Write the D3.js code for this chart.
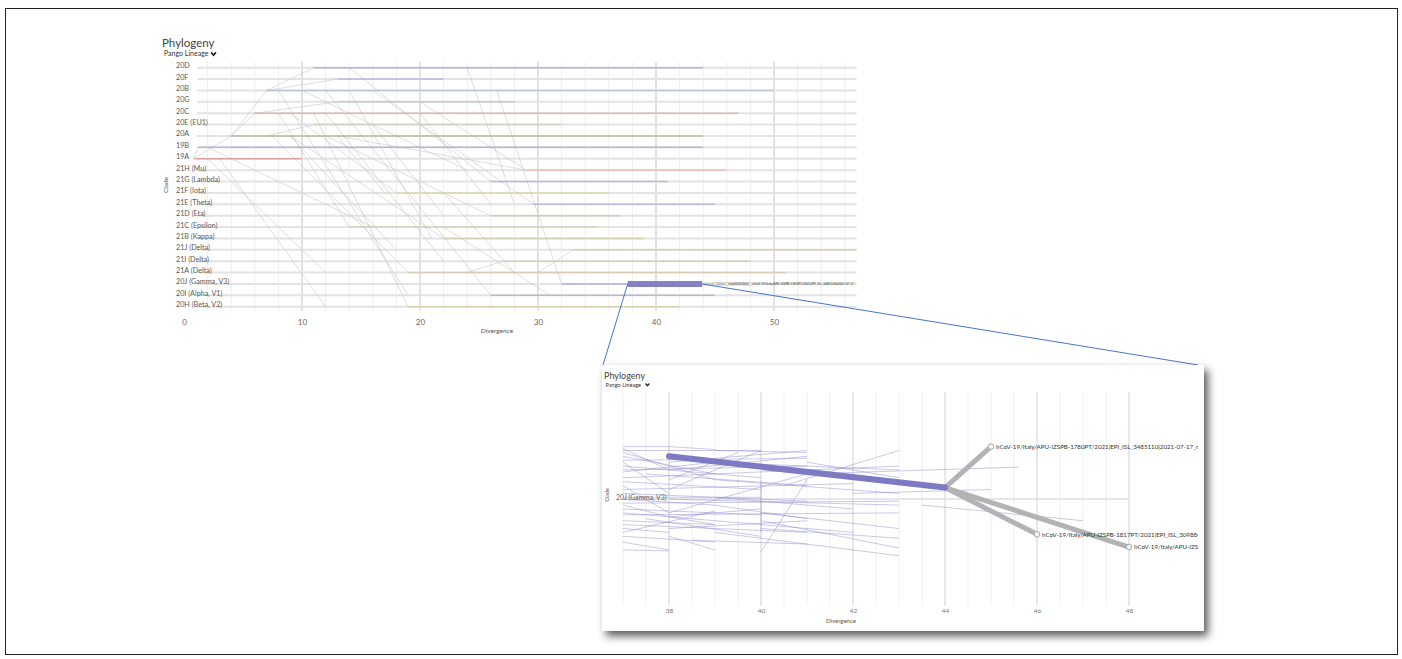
<!DOCTYPE html>
<meta charset="utf-8">
<style>
body{margin:0;background:#fff;}
text{font-family:Lato,"Open Sans",sans-serif;}
</style>
<svg width="1402" height="659"></svg>
<script src="https://cdn.jsdelivr.net/npm/d3@7"></script>
<script>
// clades, top to bottom
var clades = ["20D","20F","20B","20G","20C","20E (EU1)","20A","19B","19A","21H (Mu)","21G (Lambda)","21F (Iota)","21E (Theta)","21D (Eta)","21C (Epsilon)","21B (Kappa)","21J (Delta)","21I (Delta)","21A (Delta)","20J (Gamma, V3)","20I (Alpha, V1)","20H (Beta, V2)"];
var cladeParent = ["20B","20B","20A","20C","20A","20A","19A","19A",null,"20A","20D","20C","20B","20A","20C","20A","21A (Delta)","21A (Delta)","20A","20B","20B","20C"];
var branchDiv = [7,7,4,6,4,7,0.8,0.8,null,13,14,9,16,12,8,9,30,24,7.5,26.5,12,11];
var startDiv  = [11,13,7,13,6,11,4,1.2,0.8,29,26,18,29.6,26,14,22,33,27,19,32,26,19];
var endDiv    = [44,22,50,28,47,32,44,44,10,46,41,36,45,37,35,39,57,48,51,37.6,45,42];

// other branches crossing between clades: [fromClade, fromDiv, toClade, toDiv]
var crossBranches = [
  ["20B",10,"21H (Mu)",24],["20A",13,"21F (Iota)",17],["20C",20,"21E (Theta)",26],
  ["19B",2,"21C (Epsilon)",16],["19A",2,"21A (Delta)",12],["20E (EU1)",16,"21D (Eta)",22],
  ["20G",20,"21H (Mu)",29],["21C (Epsilon)",22,"20I (Alpha, V1)",31],["20D",24,"21E (Theta)",28],
  ["19A",3,"20H (Beta, V2)",12],["20B",14,"21B (Kappa)",21],["20A",9,"21J (Delta)",18],
  ["21F (Iota)",22,"21A (Delta)",28],["20C",12,"21I (Delta)",22],["20B",8,"20I (Alpha, V1)",19]
];

var xTicks = [0,10,20,30,40,50];

// 20J (Gamma) zoomed lineage
var trunkDiv = [37.6, 43.9];
var tipNames = ["hCoV-19/Italy/APU-IZSPB-1780PT/2021|EPI_ISL_3485110|2021-07-17_nextregions",
                "hCoV-19/Italy/APU-IZSPB-1817PT/2021|EPI_ISL_3098840|2021-06-29",
                "hCoV-19/Italy/APU-IZSPB-1905PT/2021|EPI_ISL_3485126|2021-07-17"];
var tipDiv = [45, 46, 48];
var tipSpread = [28, 73, 79.5];
var nodeDiv = [38, 44];
var nodeSpread = [33, 49];
var zoomTicks = [38,40,42,44,46,48];
var zoomBranches = [
 [37,28,38,28],[37,30,40,30],[38,28,39,29.5],[37,29,38,40],[37,31,39,45],
 [37,35,41,34],[37,38,40,44],[37,41,39,36],[37,44,43,38],[37,46,40,50],
 [37,48,38,62],[37,50,42,47],[37,52,41,56],[37,55,39,58],[37,58,38,64],
 [37,60,40,63],[37,63,43,62],[37,66,39,68],[37,70,38,72],[37,74,39,77],
 [37,77,38,81],[37,81,38,81.5],[38,64,40,60],[38,64,39,68],[38,50,40,30],
 [38,45,39.5,31],[38,62,41,42],[39,58,41,65],[40,82,41,45],[40,70,43,75],
 [40,62,43,70],[39,36,43,40],[41,42,45.6,38.5],[40.5,48,43,30],[42,52,45,50],
 [40,66,43,80],[39,72,43,84],[43.5,58,47,66],[37,40,41,38],[38,55,43,58],
 [37,62,42,72],[38,36,41,30],[39,45,43,52],[40,46,40,72],
 [37,33,39,42],[37,36,38,52],[37.5,42,41,48],[38,40,41,33],[37,54,40,54],
 [37,57,43,56],[37.5,65,40,74],[38,70,41,66],[37,72,39,61],[39,54,42,60],
 [38.5,76,41,78],[37,68,41,72],[39,30,41,31],[41,36,43,44],[38,74,39,81]
];

var cladeColor = d3.scaleOrdinal().domain(clades).range(["#938fd0","#9a96d4","#a3acd8","#8ec3cc","#d39a8a","#b9c7a8","#8ea36a","#9b8fd0","#d86f6f","#e0a5a0","#9f96d6","#d8cf84","#9f98d4","#bfbf7e","#c9c9a2","#c8bf86","#d9b98d","#d8bc95","#d5b78e","#8c88c8","#9a94d2","#c9c78f"]);

var svg = d3.select("svg");
svg.append("rect").attr("x",5.5).attr("y",8.5).attr("width",1392).attr("height",646)
  .attr("fill","none").attr("stroke","#222");

var defs = svg.append("defs");
defs.append("filter").attr("id","shadow").attr("x","-10%").attr("y","-10%").attr("width","125%").attr("height","130%")
  .append("feDropShadow").attr("dx",4).attr("dy",5).attr("stdDeviation",4.5)
  .attr("flood-color","#000").attr("flood-opacity",0.65);
defs.append("clipPath").attr("id","zclip").append("rect")
  .attr("x",602).attr("y",365).attr("width",596).attr("height",266);

function chevron(g, cx, cy, s) {
  g.append("path").attr("d","M"+(cx-s)+","+(cy-s*0.6)+"L"+cx+","+(cy+s*0.6)+"L"+(cx+s)+","+(cy-s*0.6))
    .attr("fill","none").attr("stroke","#222").attr("stroke-width",s*0.7);
}

// ---------- main chart
var x = d3.scaleLinear().domain([0,57]).range([184,856.6]);
var y = d3.scalePoint().domain(clades).range([67.7,306.7]);
var main = svg.append("g");

main.append("text").attr("x",162).attr("y",47).attr("font-size",11.5).attr("fill","#444").text("Phylogeny");
main.append("text").attr("x",164).attr("y",56).attr("font-size",7).attr("fill","#333").text("Pango Lineage");
chevron(main, 213.5, 53.8, 2.4);

main.selectAll(".vg").data(d3.range(2,57,2)).join("line")
  .attr("x1",x).attr("x2",x).attr("y1",62).attr("y2",311)
  .attr("stroke",function(d){return d%10===0?"#d9d9d9":"#efefef";})
  .attr("stroke-width",function(d){return d%10===0?1.5:1;});
main.selectAll(".row").data(clades).join("line")
  .attr("x1",x(1.1)).attr("x2",x(57)).attr("y1",y).attr("y2",y)
  .attr("stroke","#e3e3e3").attr("stroke-width",2);

main.selectAll(".lab").data(clades).join("text")
  .attr("x",176).attr("y",function(d){return y(d)+0.5;})
  .attr("font-size",7.2).attr("fill","#5a5a5a").text(function(d){return d;});

var xAxis = main.append("g").attr("transform","translate(0,316)")
  .call(d3.axisBottom(x).tickValues(xTicks).tickSize(0).tickPadding(3));
xAxis.select(".domain").remove();
xAxis.selectAll("text").attr("font-size",8).attr("fill","#666").attr("font-family","Lato");
main.append("text").attr("x",497).attr("y",333).attr("text-anchor","middle").attr("font-size",6.5).attr("fill","#555").text("Divergence");
main.append("text").attr("transform","translate(168,185) rotate(-90)").attr("text-anchor","middle").attr("font-size",6.5).attr("fill","#555").text("Clade");

// gray branches between clades
var diag = [];
clades.forEach(function(c,i){
  if (cladeParent[i]) diag.push([cladeParent[i], branchDiv[i], c, startDiv[i]]);
});
diag = diag.concat(crossBranches);
main.selectAll(".diag").data(diag).join("line")
  .attr("x1",function(d){return x(d[1]);}).attr("y1",function(d){return y(d[0]);})
  .attr("x2",function(d){return x(d[3]);}).attr("y2",function(d){return y(d[2]);})
  .attr("stroke","#c8c8c8").attr("stroke-width",0.8).attr("opacity",0.75);

// coloured in-clade branches
main.selectAll(".seg").data(clades).join("line")
  .attr("x1",function(d,i){return x(startDiv[i]);}).attr("x2",function(d,i){return x(endDiv[i]);})
  .attr("y1",y).attr("y2",y)
  .attr("stroke",function(d){return cladeColor(d);}).attr("stroke-width",1.5).attr("opacity",0.55);

// 20J trunk in main chart
var yJ = y("20J (Gamma, V3)");
main.append("line").attr("x1",x(trunkDiv[1])).attr("x2",x(d3.max(tipDiv))).attr("y1",yJ).attr("y2",yJ)
  .attr("stroke","#cfcfcf").attr("stroke-width",3);
main.append("line").attr("x1",x(trunkDiv[0])).attr("x2",x(trunkDiv[1])).attr("y1",yJ).attr("y2",yJ)
  .attr("stroke","#8581c4").attr("stroke-width",6);
// tiny tip labels, squeezed into the room before the next tip
tipDiv.forEach(function(d,i){
  var next = i < tipDiv.length - 1 ? x(tipDiv[i+1]) - 2 : x(57) + 2;
  main.append("circle").attr("cx",x(d)).attr("cy",yJ).attr("r",1.6).attr("fill","#fff").attr("stroke","#aaa").attr("stroke-width",0.6);
  var t = main.append("g").attr("transform","translate(" + (x(d)+2) + "," + (yJ+1.2) + ")")
    .append("text").attr("font-size",3.2).attr("fill","#333").text(tipNames[i]);
  var w = t.node().getComputedTextLength();
  t.attr("transform","scale(" + Math.min(1,(next-x(d)-2)/w) + ",1)");
});

// ---------- zoom inset
var zx = d3.scaleLinear().domain([38,48]).range([669,1129]);
var zy = d3.scaleLinear().domain([0,100]).range([392,587]);
var zx0 = 602, zy0 = 365, zx1 = 1204, zy1 = 631;

svg.append("line").attr("x1",x(trunkDiv[0])).attr("y1",yJ).attr("x2",zx0+1).attr("y2",zy0)
  .attr("stroke","#4676c8").attr("stroke-width",1);
svg.append("line").attr("x1",x(trunkDiv[1])).attr("y1",yJ).attr("x2",zx1-6).attr("y2",zy0)
  .attr("stroke","#4676c8").attr("stroke-width",1);

svg.append("rect").attr("x",zx0).attr("y",zy0).attr("width",zx1-zx0).attr("height",zy1-zy0)
  .attr("fill","#fff").attr("filter","url(#shadow)");

var z = svg.append("g").attr("clip-path","url(#zclip)");
z.append("text").attr("x",604).attr("y",379).attr("font-size",9).attr("fill","#444").text("Phylogeny");
z.append("text").attr("x",605.5).attr("y",386.5).attr("font-size",5.6).attr("fill","#333").text("Pango Lineage");
chevron(z, 647.5, 384.6, 1.9);

z.selectAll(".zg").data(d3.range(37,48.01,0.5)).join("line")
  .attr("x1",zx).attr("x2",zx).attr("y1",392).attr("y2",606)
  .attr("stroke",function(d){return d%2===0?"#dcdcdc":"#f0f0f0";})
  .attr("stroke-width",function(d){return d%2===0?1.3:1;});
z.append("line").attr("x1",zx(37)).attr("x2",zx(48)).attr("y1",499).attr("y2",499)
  .attr("stroke","#dedde8").attr("stroke-width",1.5);

z.selectAll(".zb").data(zoomBranches).join("line")
  .attr("x1",function(d){return zx(d[0]);}).attr("y1",function(d){return zy(d[1]);})
  .attr("x2",function(d){return zx(d[2]);}).attr("y2",function(d){return zy(d[3]);})
  .attr("stroke","#8a86cc").attr("stroke-width",1).attr("opacity",0.45);

z.append("text").attr("x",616).attr("y",499.5).attr("font-size",6.8).attr("fill","#666").text("20J (Gamma, V3)");
z.append("text").attr("transform","translate(609,495) rotate(-90)").attr("text-anchor","middle").attr("font-size",5.5).attr("fill","#555").text("Clade");

tipDiv.forEach(function(d,i){
  z.append("line").attr("x1",zx(nodeDiv[1])).attr("y1",zy(nodeSpread[1])).attr("x2",zx(d)).attr("y2",zy(tipSpread[i]))
    .attr("stroke","#b3b3b3").attr("stroke-width",5).attr("stroke-linecap","round");
});
z.append("line").attr("x1",zx(nodeDiv[0])).attr("y1",zy(nodeSpread[0])).attr("x2",zx(nodeDiv[1])).attr("y2",zy(nodeSpread[1]))
  .attr("stroke","#7d79c2").attr("stroke-width",6).attr("stroke-linecap","round");
tipDiv.forEach(function(d,i){
  z.append("circle").attr("cx",zx(d)).attr("cy",zy(tipSpread[i])).attr("r",2.8).attr("fill","#f4f4f4").attr("stroke","#aaa").attr("stroke-width",1);
  z.append("text").attr("x",zx(d)+5).attr("y",zy(tipSpread[i])+2.2).attr("font-size",6.2).attr("fill","#333").text(tipNames[i]);
});

var zAxis = z.append("g").attr("transform","translate(0,606)")
  .call(d3.axisBottom(zx).tickValues(zoomTicks).tickSize(0).tickPadding(2));
zAxis.select(".domain").remove();
zAxis.selectAll("text").attr("font-size",6.5).attr("fill","#777").attr("font-family","Lato");
z.append("text").attr("x",841).attr("y",623).attr("text-anchor","middle").attr("font-size",6).attr("fill","#555").text("Divergence");
</script>
